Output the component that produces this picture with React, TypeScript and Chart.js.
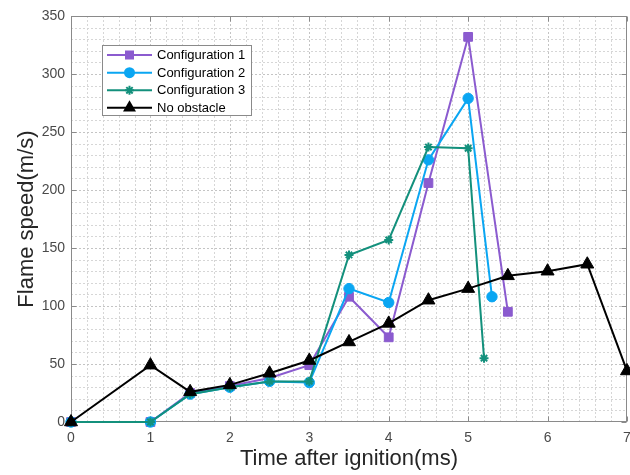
import React, { useEffect, useRef } from 'react';
import { Chart, registerables } from 'chart.js';

Chart.register(...registerables);

const FONT = "Arial, 'Liberation Sans', Helvetica, sans-serif";

// Flame speed (m/s) against time after ignition (ms)
const seriesNames = ['Configuration 1', 'Configuration 2', 'Configuration 3', 'No obstacle'];
const seriesColors = ['#8b5bcf', '#0aa6f2', '#13907c', '#000000'];

const timeConfig1 = [0, 1, 1.5, 2, 2.5, 3, 3.5, 4, 4.5, 5, 5.5];
const speedConfig1 = [0, 0, 25, 31, 38, 49, 108, 73, 206, 332, 95];

const timeConfig2 = [0, 1, 1.5, 2, 2.5, 3, 3.5, 4, 4.5, 5, 5.3];
const speedConfig2 = [0, 0, 24, 30, 35, 34, 115, 103, 226, 279, 108];

const timeConfig3 = [0, 1, 1.5, 2, 2.5, 3, 3.5, 4, 4.5, 5, 5.2];
const speedConfig3 = [0, 0, 24, 30, 35, 35, 144, 157, 237, 236, 55];

const timeNoObstacle = [0, 1, 1.5, 2, 2.5, 3, 3.5, 4, 4.5, 5, 5.5, 6, 6.5, 7];
const speedNoObstacle = [0, 49, 26, 32, 42, 53, 69, 85, 105, 115, 126, 130, 136, 44];

const xTicks = [0, 1, 2, 3, 4, 5, 6, 7];
const yTicks = [0, 50, 100, 150, 200, 250, 300, 350];
const xMinorStep = 0.2;
const yMinorStep = 10;

const toPoints = (xs: number[], ys: number[]) => xs.map((x, i) => ({ x, y: ys[i] }));

type Marker = 'rect' | 'circle' | 'star' | 'triangle';
const markers: Marker[] = ['rect', 'circle', 'star', 'triangle'];

function drawMarker(ctx: CanvasRenderingContext2D, kind: Marker, x: number, y: number, color: string) {
  ctx.save();
  ctx.fillStyle = color;
  ctx.strokeStyle = color;
  ctx.setLineDash([]);
  if (kind === 'rect') {
    ctx.fillRect(x - 4.5, y - 4.5, 9, 9);
  } else if (kind === 'circle') {
    ctx.beginPath();
    ctx.arc(x, y, 5.5, 0, Math.PI * 2);
    ctx.fill();
  } else if (kind === 'star') {
    ctx.lineWidth = 2;
    ctx.beginPath();
    for (let k = 0; k < 4; k++) {
      const a = (k * Math.PI) / 4;
      ctx.moveTo(x - Math.cos(a) * 4.5, y - Math.sin(a) * 4.5);
      ctx.lineTo(x + Math.cos(a) * 4.5, y + Math.sin(a) * 4.5);
    }
    ctx.stroke();
  } else {
    const r = 7.5;
    ctx.beginPath();
    for (let k = 0; k < 3; k++) {
      const a = (k * 2 * Math.PI) / 3;
      const px = x + Math.sin(a) * r;
      const py = y - Math.cos(a) * r;
      if (k === 0) ctx.moveTo(px, py);
      else ctx.lineTo(px, py);
    }
    ctx.closePath();
    ctx.fill();
  }
  ctx.restore();
}

// Dotted grid, axes box and inward tick marks
const framePlugin = {
  id: 'frame',
  beforeDatasetsDraw(chart: any) {
    const { ctx, chartArea: a, scales } = chart;
    const xs = scales.x;
    const ys = scales.y;
    ctx.save();
    ctx.lineWidth = 1;
    ctx.setLineDash([2, 2]);
    const nx = Math.round((xs.max - xs.min) / xMinorStep);
    for (let i = 1; i < nx; i++) {
      const v = xs.min + (i * (xs.max - xs.min)) / nx;
      const px = Math.round(xs.getPixelForValue(v)) + 0.5;
      ctx.strokeStyle = i % 5 === 0 ? '#c4c4c4' : '#d6d6d6';
      ctx.beginPath();
      ctx.moveTo(px, a.top);
      ctx.lineTo(px, a.bottom);
      ctx.stroke();
    }
    const ny = Math.round((ys.max - ys.min) / yMinorStep);
    for (let i = 1; i < ny; i++) {
      const v = ys.min + (i * (ys.max - ys.min)) / ny;
      const py = Math.round(ys.getPixelForValue(v)) + 0.5;
      ctx.strokeStyle = i % 5 === 0 ? '#c4c4c4' : '#d6d6d6';
      ctx.beginPath();
      ctx.moveTo(a.left, py);
      ctx.lineTo(a.right, py);
      ctx.stroke();
    }
    ctx.setLineDash([]);
    ctx.strokeStyle = '#8a8a8a';
    const L = Math.round(a.left) + 0.5;
    const R = Math.round(a.right) - 0.5;
    const T = Math.round(a.top) + 0.5;
    const B = Math.round(a.bottom) - 0.5;
    ctx.strokeRect(L, T, R - L, B - T);
    ctx.beginPath();
    const tl = 5;
    xTicks.forEach((v) => {
      const px = Math.round(xs.getPixelForValue(v)) + 0.5;
      ctx.moveTo(px, B);
      ctx.lineTo(px, B - tl);
      ctx.moveTo(px, T);
      ctx.lineTo(px, T + tl);
    });
    yTicks.forEach((v) => {
      const py = Math.round(ys.getPixelForValue(v)) + 0.5;
      ctx.moveTo(L, py);
      ctx.lineTo(L + tl, py);
      ctx.moveTo(R, py);
      ctx.lineTo(R - tl, py);
    });
    ctx.stroke();
    ctx.restore();
  },
};

// Boxed legend in the upper left of the plot area
const legendPlugin = {
  id: 'boxLegend',
  afterDraw(chart: any) {
    const { ctx } = chart;
    const bx = 102.5;
    const by = 45.5;
    const bw = 149;
    const bh = 70;
    ctx.save();
    ctx.fillStyle = '#ffffff';
    ctx.fillRect(bx, by, bw, bh);
    ctx.strokeStyle = '#8a8a8a';
    ctx.lineWidth = 1;
    ctx.strokeRect(bx, by, bw, bh);
    const rows = [55, 72.7, 90.3, 107.7];
    seriesNames.forEach((name, i) => {
      const y = rows[i];
      ctx.strokeStyle = seriesColors[i];
      ctx.lineWidth = 2;
      ctx.beginPath();
      ctx.moveTo(107, y);
      ctx.lineTo(152, y);
      ctx.stroke();
      drawMarker(ctx, markers[i], 129.5, y, seriesColors[i]);
      ctx.fillStyle = '#000000';
      ctx.font = `13px ${FONT}`;
      ctx.textAlign = 'left';
      ctx.textBaseline = 'middle';
      ctx.fillText(name, 157, y + 0.5);
    });
    ctx.restore();
  },
};

const noEdgePadding = (s: any) => {
  s.paddingLeft = 0;
  s.paddingRight = 0;
  s.paddingTop = 0;
  s.paddingBottom = 0;
};

export default function App() {
  const canvasRef = useRef<HTMLCanvasElement | null>(null);

  useEffect(() => {
    const canvas = canvasRef.current;
    if (!canvas) return;
    const common = { showLine: true, borderWidth: 2, clip: false as any, pointBorderWidth: 1 };
    const chart = new Chart(canvas, {
      type: 'scatter',
      data: {
        datasets: [
          {
            ...common,
            label: seriesNames[0],
            data: toPoints(timeConfig1, speedConfig1),
            borderColor: seriesColors[0],
            backgroundColor: seriesColors[0],
            pointStyle: 'rect',
            pointRadius: 6.2,
            order: 3,
          },
          {
            ...common,
            label: seriesNames[1],
            data: toPoints(timeConfig2, speedConfig2),
            borderColor: seriesColors[1],
            backgroundColor: seriesColors[1],
            pointStyle: 'circle',
            pointRadius: 5.2,
            order: 2,
          },
          {
            ...common,
            label: seriesNames[2],
            data: toPoints(timeConfig3, speedConfig3),
            borderColor: seriesColors[2],
            backgroundColor: seriesColors[2],
            pointStyle: 'star',
            pointRadius: 4.5,
            pointBorderWidth: 2,
            order: 1,
          },
          {
            ...common,
            label: seriesNames[3],
            data: toPoints(timeNoObstacle, speedNoObstacle),
            borderColor: seriesColors[3],
            backgroundColor: seriesColors[3],
            pointStyle: 'triangle',
            pointRadius: 7.5,
            order: 0,
          },
        ],
      },
      options: {
        animation: false,
        responsive: false,
        devicePixelRatio: 1,
        layout: { autoPadding: false, padding: { left: 0, top: 16, right: 3, bottom: 0 } },
        plugins: { legend: { display: false }, tooltip: { enabled: false } },
        scales: {
          x: {
            type: 'linear',
            min: 0,
            max: 7,
            grid: { display: false, drawTicks: false },
            border: { display: false },
            ticks: {
              stepSize: 1,
              padding: 8,
              color: '#4a4a4a',
              font: { family: FONT, size: 14 },
            },
            title: {
              display: true,
              text: 'Time after ignition(ms)',
              color: '#262626',
              font: { family: FONT, size: 22 },
              padding: { top: 0, bottom: 3 },
            },
            afterFit: (s: any) => {
              s.height = 53;
              noEdgePadding(s);
            },
          },
          y: {
            type: 'linear',
            min: 0,
            max: 350,
            grid: { display: false, drawTicks: false },
            border: { display: false },
            ticks: {
              stepSize: 50,
              padding: 6,
              color: '#4a4a4a',
              font: { family: FONT, size: 14 },
            },
            title: {
              display: true,
              text: 'Flame speed(m/s)',
              color: '#262626',
              font: { family: FONT, size: 22 },
              padding: { top: 14, bottom: 0 },
            },
            afterFit: (s: any) => {
              s.width = 71;
              noEdgePadding(s);
            },
          },
        },
      },
      plugins: [framePlugin, legendPlugin],
    });
    return () => chart.destroy();
  }, []);

  return (
    <div style={{ position: 'fixed', left: 0, top: 0, width: 630, height: 475, background: '#ffffff' }}>
      <canvas ref={canvasRef} width={630} height={475} />
    </div>
  );
}
